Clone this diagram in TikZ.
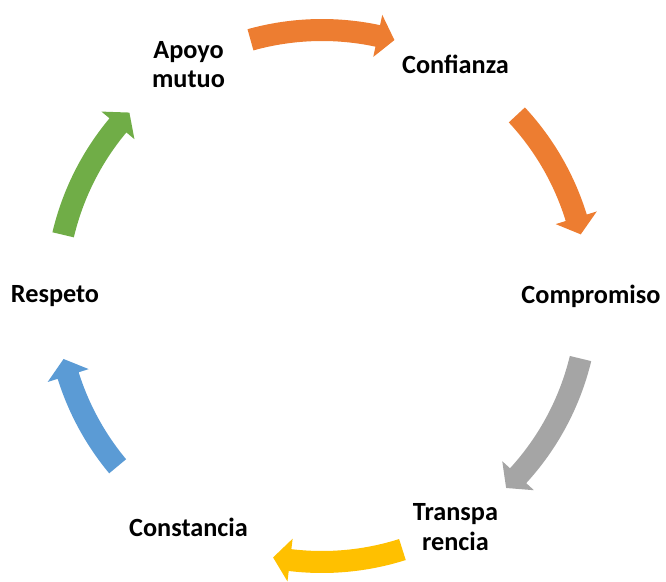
\documentclass[tikz,border=0pt]{standalone}
\usepackage{fontspec}
\setmainfont{Carlito}

\definecolor{cycorange}{HTML}{ED7D31}
\definecolor{cycgray}{HTML}{A5A5A5}
\definecolor{cycgold}{HTML}{FFC000}
\definecolor{cycblue}{HTML}{5B9BD5}
\definecolor{cycgreen}{HTML}{70AD47}

% #1 colour, #2 tail angle, #3 tip angle (clockwise)
\newcommand{\cyclearrow}[3]{%
  \fill[#1] ({#2}:277) arc[start angle={#2}, end angle={#3+3.7}, radius=277]
    -- ({#3+3.7}:287.5) -- ({#3}:266) -- ({#3+3.7}:244.5)
    -- ({#3+3.7}:255) arc[start angle={#3+3.7}, end angle={#2}, radius=255]
    -- cycle;}

\tikzset{lbl/.style={font=\bfseries\fontsize{19.7}{22}\selectfont, align=center, inner sep=0pt}}

\begin{document}
\begin{tikzpicture}[x=0.75pt,y=0.75pt]
\useasboundingbox (-322,-285) rectangle (344,296);
\node [lbl] (apoyo) at (120:267) {Apoyo\\mutuo};
\node [lbl] (confianza) at (60:267) {Confianza};
\node [lbl] (compromiso) at (0:269) {Compromiso};
\node [lbl] (transparencia) at (-60:267) {Transpa\\rencia};
\node [lbl] (constancia) at (-120:267) {Constancia};
\node [lbl] (respeto) at (180:267) {Respeto};
\cyclearrow{cycorange}{105.6}{74.2}
\cyclearrow{cycorange}{42.9}{13.4}
\cyclearrow{cycgray}{-13.6}{-46.2}
\cyclearrow{cycgold}{-72.4}{-100.6}
\cyclearrow{cycblue}{-140.2}{-166.3}
\cyclearrow{cycgreen}{166.7}{136.4}
\end{tikzpicture}
\end{document}
